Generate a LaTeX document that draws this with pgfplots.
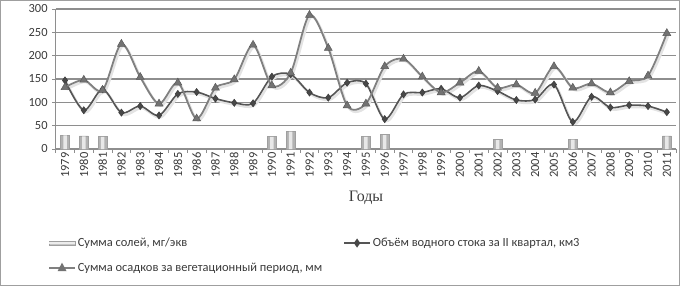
\documentclass[border=0pt]{standalone}
\usepackage{pgfplots}
\pgfplotsset{compat=1.18}
\usepackage{fontspec}
\setmainfont{Carlito}
\newfontfamily\seriffont{Liberation Serif}
\definecolor{gridc}{HTML}{8E8E8E}
\definecolor{tric}{HTML}{808080}
\definecolor{diac}{HTML}{555555}
\definecolor{txt}{HTML}{3A3A3A}
\begin{document}
\begin{tikzpicture}[x=1bp,y=1bp]
\useasboundingbox (0,0) rectangle (680,286);
\draw[gray!75, line width=1.2bp] (0.6,0.6) rectangle (679.4,285.4);
\begin{axis}[
  at={(55.6bp,137bp)}, anchor=south west,
  width=620.6bp, height=140bp, scale only axis,
  xmin=1978.5, xmax=2011.5, ymin=0, ymax=300,
  axis lines*=left,
  axis line style={gridc, line width=1.2bp},
  ytick={0,50,...,300},
  ymajorgrids, grid style={gridc, line width=1.3bp},
  xtick={1978.5,1979.5,...,2011.5}, xticklabels={},
  extra x ticks={1979,1980,...,2011},
  extra x tick style={major tick length=0pt, grid=none},
  tick align=outside, major tick length=3.5bp,
  tick style={gridc, line width=0.8bp},
  /pgf/number format/assume math mode=true,
  /pgf/number format/1000 sep={},
  ticklabel style={font=\fontsize{12.5}{14}\selectfont, text=txt},
  extra x tick style={xticklabel style={rotate=90, anchor=east, font=\fontsize{12.5}{14}\selectfont, text=txt}},
  yticklabel style={xshift=-1bp},
  clip=false,
  legend columns=2,
  legend style={at={(-0.0122,-0.62)}, anchor=north west, draw=none, fill=none,
    inner sep=0pt, font=\fontsize{12.5}{14}\selectfont, text=txt,
    /tikz/every even column/.append style={column sep=19bp},
    row sep=11bp},
  legend cell align=left,
]
% bars: Сумма солей
\addplot[ybar, bar shift=0pt, bar width=9bp, draw=gray!75, fill=gray!60,
  legend image code/.code={\draw[draw=gray!75, fill=gray!45] (0bp,-2bp) rectangle (26bp,2bp);
    \fill[gray!15] (0.5bp,-0.3bp) rectangle (25.5bp,1.2bp);}]
  coordinates {(1979,30) (1980,28) (1981,27) (1990,27) (1991,38) (1995,27) (1996,31) (2002,20) (2006,21) (2011,28)};
\addlegendentry{Сумма солей, мг/экв}
\addplot[forget plot, ybar, bar shift=0pt, bar width=3.5bp, draw=none, fill=gray!18]
  coordinates {(1979,29) (1980,27) (1981,26) (1990,26) (1991,37) (1995,26) (1996,30) (2002,19) (2006,20) (2011,27)};
% shadows
\addplot[forget plot, smooth, draw=gray!22, line width=2.5bp, xshift=1.5bp, yshift=-2bp] coordinates {
(1979,147) (1980,83) (1981,128) (1982,78) (1983,92) (1984,72) (1985,118) (1986,122) (1987,108) (1988,99)
(1989,98) (1990,155) (1991,160) (1992,121) (1993,110) (1994,142) (1995,140) (1996,64) (1997,117) (1998,121)
(1999,129) (2000,110) (2001,136) (2002,124) (2003,105) (2004,106) (2005,138) (2006,58) (2007,112) (2008,89)
(2009,94) (2010,92) (2011,79)};
\addplot[forget plot, smooth, draw=gray!22, line width=2.5bp, xshift=1.5bp, yshift=-2bp] coordinates {
(1979,132) (1980,148) (1981,126) (1982,225) (1983,154) (1984,97) (1985,142) (1986,65) (1987,131) (1988,149)
(1989,223) (1990,136) (1991,163) (1992,287) (1993,216) (1994,93) (1995,97) (1996,177) (1997,193) (1998,155)
(1999,121) (2000,142) (2001,167) (2002,131) (2003,138) (2004,120) (2005,177) (2006,131) (2007,140) (2008,121)
(2009,145) (2010,157) (2011,248)};
% diamonds: Объём водного стока
\addplot[smooth, draw=diac, line width=1.6bp, mark=diamond*, mark size=3.6bp,
  mark options={fill=diac!85!black, draw=diac!70!black, line width=0.5bp, solid},
  legend image code/.code={\draw[diac, line width=1.6bp] (0bp,0bp) -- (26bp,0bp);
    \fill[diac!85!black] (13bp,0bp) +(0,3.2bp) -- +(2.2bp,0) -- +(0,-3.2bp) -- +(-2.2bp,0) -- cycle;}]
  coordinates {
(1979,147) (1980,83) (1981,128) (1982,78) (1983,92) (1984,72) (1985,118) (1986,122) (1987,108) (1988,99)
(1989,98) (1990,155) (1991,160) (1992,121) (1993,110) (1994,142) (1995,140) (1996,64) (1997,117) (1998,121)
(1999,129) (2000,110) (2001,136) (2002,124) (2003,105) (2004,106) (2005,138) (2006,58) (2007,112) (2008,89)
(2009,94) (2010,92) (2011,79)};
\addlegendentry{Объём водного стока за II квартал, км3}
% triangles: Сумма осадков
\addplot[smooth, draw=tric, line width=1.8bp, mark=triangle*, mark size=4.6bp,
  mark options={fill=tric!90!black, draw=tric!70!black, line width=0.5bp, solid},
  legend image code/.code={\draw[tric, line width=1.6bp] (0bp,0bp) -- (26bp,0bp);
    \fill[tric!90!black] (13bp,0bp) +(0,3.5bp) -- +(3bp,-2.2bp) -- +(-3bp,-2.2bp) -- cycle;}]
  coordinates {
(1979,132) (1980,148) (1981,126) (1982,225) (1983,154) (1984,97) (1985,142) (1986,65) (1987,131) (1988,149)
(1989,223) (1990,136) (1991,163) (1992,287) (1993,216) (1994,93) (1995,97) (1996,177) (1997,193) (1998,155)
(1999,121) (2000,142) (2001,167) (2002,131) (2003,138) (2004,120) (2005,177) (2006,131) (2007,140) (2008,121)
(2009,145) (2010,157) (2011,248)};
\addlegendentry{Сумма осадков за вегетационный период, мм}
\end{axis}
\node[font=\seriffont\fontsize{16}{18}\selectfont, text=txt] at (366,88) {Годы};
\end{tikzpicture}
\end{document}
